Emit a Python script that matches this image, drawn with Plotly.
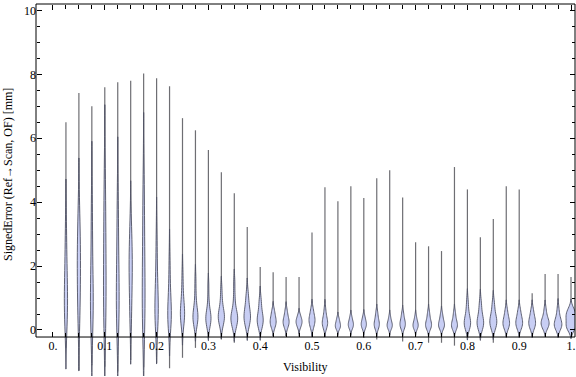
import plotly.graph_objects as go

# ---------------- data ----------------
visibility = [round(0.025 * k, 3) for k in range(1, 41)]

err_min = [-0.56, -1.25, -1.10, -1.15, -1.30, -0.94, -1.17, -1.03, -1.20, -0.87,
           -0.56, -0.30, -0.30, -0.40, -0.15, -0.15, -0.20, -0.20, -0.20, -0.20,
           -0.20, -0.20, -0.20, -0.25, -0.30, -0.20, -0.36, -0.20, -0.40, -0.40,
           -0.49, -0.20, -0.25, -0.40, -0.20, -0.20, -0.20, -0.10, -0.20, -0.20]

err_max = [6.50, 7.42, 7.00, 7.60, 7.75, 7.80, 8.03, 7.88, 7.63, 6.63,
           6.25, 5.63, 4.94, 4.28, 3.22, 1.97, 1.81, 1.66, 1.66, 3.05,
           4.47, 4.03, 4.50, 4.13, 4.75, 5.00, 4.15, 2.75, 2.62, 2.47,
           5.10, 4.40, 2.90, 3.47, 4.50, 4.40, 1.15, 1.75, 1.75, 1.66]

samples = [
    [0.1, 0.3, 0.5, 0.7, 0.9, 1.1, 1.3, 1.6, 1.9, 2.3, 2.8, 3.4],
    [0.2, 0.5, 0.9, 1.3, 1.6, 1.9, 2.1, 2.4, 2.7, 3.0, 3.4, 3.9],
    [0.1, 0.3, 0.5, 0.7, 0.9, 1.1, 1.4, 1.8, 2.3, 2.9, 3.5, 4.2],
    [0.1, 0.4, 0.7, 1.0, 1.4, 1.8, 2.2, 2.7, 3.2, 3.7, 4.3, 5.0],
    [0.1, 0.3, 0.5, 0.8, 1.0, 1.3, 1.6, 2.0, 2.5, 3.0, 3.6, 4.3],
    [0.2, 0.5, 0.9, 1.3, 1.6, 1.8, 2.0, 2.2, 2.4, 2.7, 3.0, 3.4],
    [0.1, 0.3, 0.5, 0.8, 1.1, 1.5, 1.9, 2.4, 2.9, 3.5, 4.1, 4.8],
    [0.1, 0.3, 0.4, 0.5, 0.6, 0.8, 1.0, 1.2, 1.5, 1.9, 2.4, 3.0],
    [0.05, 0.2, 0.3, 0.4, 0.5, 0.6, 0.7, 0.9, 1.1, 1.4, 1.8, 2.3],
    [0.1, 0.25, 0.35, 0.45, 0.5, 0.55, 0.65, 0.75, 0.9, 1.1, 1.4, 1.8],
    [0.1, 0.2, 0.3, 0.35, 0.4, 0.45, 0.5, 0.6, 0.7, 0.9, 1.2, 1.6],
    [0.05, 0.15, 0.25, 0.3, 0.35, 0.4, 0.45, 0.5, 0.6, 0.75, 1.0, 1.4],
    [0.1, 0.2, 0.3, 0.35, 0.4, 0.45, 0.5, 0.55, 0.65, 0.8, 1.0, 1.3],
    [0.05, 0.15, 0.25, 0.3, 0.35, 0.4, 0.45, 0.5, 0.6, 0.8, 1.1, 1.5],
    [0.1, 0.2, 0.3, 0.35, 0.4, 0.45, 0.5, 0.6, 0.7, 0.85, 1.0, 1.2],
    [0.05, 0.15, 0.2, 0.25, 0.3, 0.35, 0.4, 0.45, 0.55, 0.7, 0.85, 1.0],
    [0.05, 0.12, 0.18, 0.22, 0.26, 0.3, 0.34, 0.4, 0.48, 0.56, 0.65],
    [0.05, 0.12, 0.18, 0.22, 0.25, 0.28, 0.32, 0.38, 0.45, 0.55, 0.65],
    [0.06, 0.12, 0.18, 0.22, 0.25, 0.28, 0.32, 0.36, 0.42, 0.5],
    [0.05, 0.12, 0.2, 0.25, 0.3, 0.33, 0.37, 0.42, 0.5, 0.6, 0.7],
    [0.04, 0.1, 0.15, 0.2, 0.23, 0.26, 0.3, 0.36, 0.45, 0.55, 0.7],
    [0.02, 0.06, 0.09, 0.12, 0.15, 0.18, 0.22, 0.27, 0.33, 0.4],
    [0.03, 0.08, 0.12, 0.15, 0.18, 0.21, 0.25, 0.3, 0.37, 0.45],
    [0.03, 0.08, 0.12, 0.16, 0.19, 0.22, 0.26, 0.31, 0.38, 0.46],
    [0.03, 0.08, 0.12, 0.16, 0.19, 0.22, 0.26, 0.32, 0.4, 0.5, 0.58],
    [0.02, 0.07, 0.1, 0.13, 0.16, 0.19, 0.23, 0.28, 0.35, 0.45],
    [0.03, 0.08, 0.12, 0.16, 0.19, 0.22, 0.26, 0.31, 0.38, 0.47, 0.56],
    [0.02, 0.06, 0.1, 0.13, 0.16, 0.19, 0.23, 0.28, 0.35, 0.45],
    [0.03, 0.07, 0.11, 0.14, 0.17, 0.2, 0.24, 0.3, 0.38, 0.48, 0.58],
    [0.03, 0.07, 0.11, 0.14, 0.17, 0.2, 0.24, 0.29, 0.36, 0.45, 0.54],
    [0.02, 0.06, 0.1, 0.13, 0.16, 0.19, 0.23, 0.29, 0.37, 0.47, 0.58],
    [0.03, 0.09, 0.14, 0.18, 0.21, 0.25, 0.3, 0.37, 0.46, 0.58, 0.75, 0.95],
    [0.03, 0.09, 0.14, 0.18, 0.22, 0.26, 0.31, 0.38, 0.47, 0.6, 0.75, 0.92],
    [0.04, 0.1, 0.16, 0.21, 0.25, 0.29, 0.34, 0.4, 0.48, 0.6, 0.75, 0.9],
    [0.03, 0.09, 0.14, 0.18, 0.22, 0.26, 0.31, 0.37, 0.45, 0.55, 0.68],
    [0.03, 0.09, 0.14, 0.19, 0.23, 0.27, 0.32, 0.38, 0.46, 0.56, 0.68],
    [0.03, 0.09, 0.14, 0.19, 0.23, 0.27, 0.32, 0.38, 0.46, 0.56, 0.68],
    [0.03, 0.08, 0.13, 0.17, 0.2, 0.23, 0.27, 0.31, 0.36, 0.44, 0.55, 0.7],
    [0.03, 0.07, 0.1, 0.13, 0.16, 0.2, 0.24, 0.29, 0.35, 0.43, 0.55, 0.72],
    [0.02, 0.06, 0.1, 0.14, 0.2, 0.3, 0.38, 0.43, 0.47, 0.52, 0.6, 0.68],
]

x_tick_vals = [0.0, 0.1, 0.2, 0.3, 0.4, 0.5, 0.6, 0.7, 0.8, 0.9, 1.0]
x_tick_text = ["0.", "0.1", "0.2", "0.3", "0.4", "0.5", "0.6", "0.7", "0.8", "0.9", "1."]
y_tick_vals = [0, 2, 4, 6, 8, 10]
y_tick_text = ["0", "2", "4", "6", "8", "10"]

# ---------------- style: drawn maximum width of each violin (pixels) ----------------
violin_width_px = [3.2, 3.2, 2.8, 2.6, 2.8, 3.2, 2.8, 3.4, 3.6, 4.2,
                   5.0, 5.2, 6.2, 6.8, 6.5, 6.0, 6.0, 6.0, 6.0, 6.0,
                   5.4, 5.2, 5.2, 5.2, 5.2, 5.2, 5.4, 5.2, 6.0, 6.0,
                   6.0, 6.4, 6.6, 7.0, 6.6, 6.8, 6.8, 8.0, 7.6, 10.0]

# ---------------- layout geometry ----------------
W, H = 576, 377
ML, MR, MT, MB = 36, 1, 4, 1
X_RANGE = [-0.0328, 1.0077]
Y_RANGE = [-1.44, 10.203]
FRAME_BOTTOM_Y = -0.22
plot_w = W - ML - MR
plot_h = H - MT - MB
px_per_x = plot_w / (X_RANGE[1] - X_RANGE[0])
pb = (FRAME_BOTTOM_Y - Y_RANGE[0]) / (Y_RANGE[1] - Y_RANGE[0])

FONT = "Liberation Serif, Times New Roman, serif"

# tail lines (min -> max) built from the data
line_x, line_y = [], []
for xv, lo, hi in zip(visibility, err_min, err_max):
    line_x += [xv, xv, None]
    line_y += [lo, hi, None]

fig = go.Figure()
fig.add_trace(go.Scatter(
    x=line_x, y=line_y, mode="lines",
    line=dict(color="rgba(85,85,90,0.85)", width=1.2),
    hoverinfo="skip", showlegend=False, xaxis="x", yaxis="y",
))
for xv, s, wpx in zip(visibility, samples, violin_width_px):
    fig.add_trace(go.Violin(
        x=[xv] * len(s), y=s, xaxis="x2", yaxis="y2",
        width=wpx / px_per_x, scalemode="width", spanmode="soft",
        points=False, box_visible=False, meanline_visible=False,
        fillcolor="rgb(200,206,244)",
        line=dict(color="rgb(80,82,100)", width=0.9),
        showlegend=False, hoverinfo="skip",
    ))

minor_x = [round(0.025 * k, 3) for k in range(0, 41)]
minor_y = [0.5 * k for k in range(0, 21)]

tickfont = dict(family=FONT, size=12, color="black")
common = dict(showgrid=False, zeroline=False, showline=False, automargin=False,
              ticks="inside", tickwidth=1, tickcolor="black", tickmode="array")

fig.update_layout(
    width=W, height=H,
    margin=dict(l=ML, r=MR, t=MT, b=MB, pad=0, autoexpand=False),
    paper_bgcolor="white", plot_bgcolor="white",
    showlegend=False, violinmode="overlay",
    xaxis=dict(
        range=X_RANGE, anchor="free", position=pb,
        tickvals=x_tick_vals, ticktext=x_tick_text, ticklen=5,
        minor=dict(tickmode="array", tickvals=minor_x, ticks="inside",
                   ticklen=4, tickwidth=1, tickcolor="black", showgrid=False),
        tickfont=tickfont, **common,
    ),
    xaxis2=dict(
        range=X_RANGE, overlaying="x", side="top", anchor="free", position=1,
        showticklabels=False, tickvals=x_tick_vals, ticklen=5,
        minor=dict(tickmode="array", tickvals=minor_x, ticks="inside",
                   ticklen=4, tickwidth=1, tickcolor="black", showgrid=False),
        **common,
    ),
    yaxis=dict(
        range=Y_RANGE, anchor="free", position=0,
        tickvals=y_tick_vals, ticktext=y_tick_text, ticklen=5,
        minor=dict(tickmode="array", tickvals=minor_y, ticks="inside",
                   ticklen=3, tickwidth=1, tickcolor="black", showgrid=False),
        tickfont=tickfont, **common,
    ),
    yaxis2=dict(
        range=Y_RANGE, overlaying="y", side="right", anchor="free", position=1,
        showticklabels=False, tickvals=y_tick_vals, ticklen=5,
        minor=dict(tickmode="array", tickvals=minor_y, ticks="inside",
                   ticklen=3, tickwidth=1, tickcolor="black", showgrid=False),
        **common,
    ),
    shapes=[dict(type="rect", xref="paper", yref="paper",
                 x0=0, x1=1, y0=pb, y1=1,
                 line=dict(color="black", width=1), fillcolor="rgba(0,0,0,0)",
                 layer="above")],
    annotations=[
        dict(text="SignedError (Ref\u2192Scan, OF) [mm]", xref="paper", yref="paper",
             x=(8 - ML) / plot_w, y=(H - MB - 175) / plot_h,
             xanchor="center", yanchor="middle", textangle=-90, showarrow=False,
             font=dict(family=FONT, size=12, color="black")),
        dict(text="Visibility", xref="paper", yref="paper",
             x=0.5, y=(H - MB - 367) / plot_h,
             xanchor="center", yanchor="middle", showarrow=False,
             font=dict(family=FONT, size=12, color="black")),
    ],
)

fig.write_html(
    "out.html",
    config={"displayModeBar": False},
    post_script="document.body.style.margin='0';document.body.style.overflow='hidden';",
)
